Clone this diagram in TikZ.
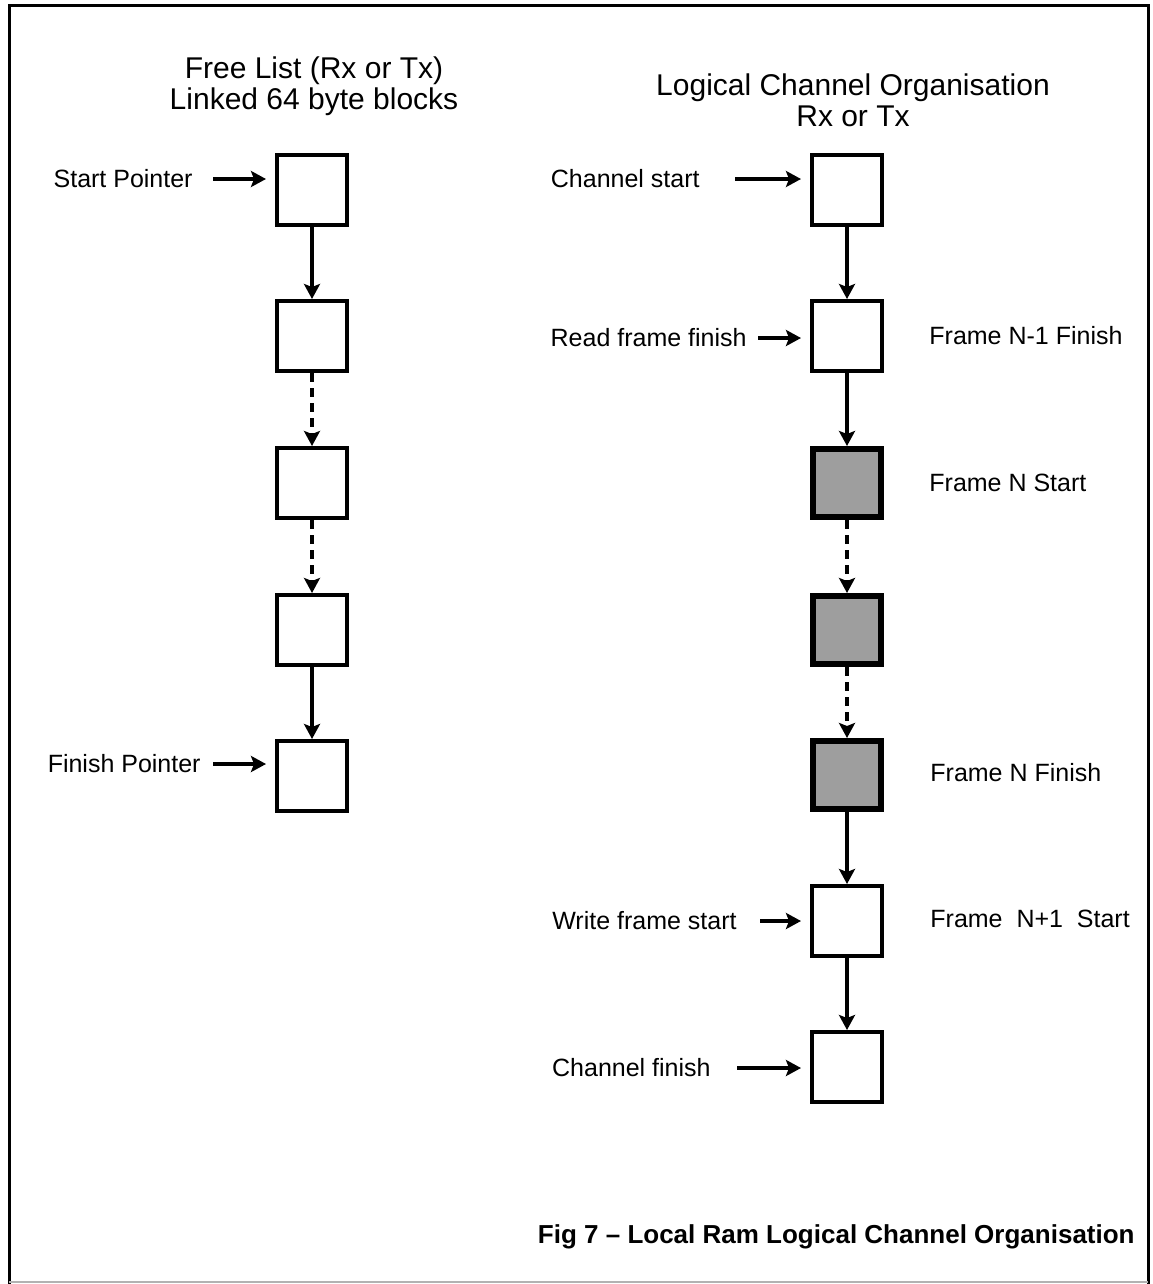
\documentclass[tikz,border=0pt]{standalone}
\usepackage{fontspec}
\setmainfont{Liberation Sans}
\usetikzlibrary{arrows.meta}
\begin{document}
\begin{tikzpicture}[x=0.5pt,y=-0.5pt,
    blk/.style={draw, line width=2pt, minimum size=35pt, inner sep=0pt},
    shblk/.style={blk, line width=3pt, minimum size=34pt, fill=black!38},
    lbl/.style={inner sep=0pt, font=\fontsize{12.5}{14}\selectfont},
    ttl/.style={align=center, inner sep=0pt, font=\fontsize{15}{15.5}\selectfont},
    link/.style={line width=1.8pt, -{Stealth[length=7.5pt,width=8pt,inset=1.5pt]}},
    dlink/.style={link, dash pattern=on 4.5pt off 3pt},
    ptr/.style={link, shorten >=4.5pt}]
    \useasboundingbox (0,0) rectangle (1152,1284);
    % frame
    \draw[line width=1.5pt] (9,1284) -- (9,6) -- (1148,6) -- (1148,1284);
    \draw[gray!60, line width=0.6pt] (9,1282) -- (1148,1282);
    % free list
    \node[ttl] (fltitle) at (314,86) {Free List (Rx or Tx)\\Linked 64 byte blocks};
    \node[blk] (f1) at (312,190) {};
    \node[blk] (f2) at (312,336) {};
    \node[blk] (f3) at (312,483) {};
    \node[blk] (f4) at (312,630) {};
    \node[blk] (f5) at (312,776) {};
    \draw[link] (f1) -- (f2);
    \draw[dlink] (f2) -- (f3);
    \draw[dlink] (f3) -- (f4);
    \draw[link] (f4) -- (f5);
    \node[lbl,anchor=east] (startp) at (193,179) {Start Pointer};
    \node[lbl,anchor=east] (finishp) at (201,764) {Finish Pointer};
    \draw[ptr, shorten <=10pt] (startp.east) -- (startp.east -| f1.west);
    \draw[ptr, shorten <=6pt] (finishp.east) -- (finishp.east -| f5.west);
    % logical channel
    \node[ttl] (lctitle) at (853,100) {Logical Channel Organisation\\Rx or Tx};
    \node[blk] (c1) at (847,190) {};
    \node[blk] (c2) at (847,336) {};
    \node[shblk] (c3) at (847,483) {};
    \node[shblk] (c4) at (847,630) {};
    \node[shblk] (c5) at (847,775) {};
    \node[blk] (c6) at (847,921) {};
    \node[blk] (c7) at (847,1067) {};
    \draw[link] (c1) -- (c2);
    \draw[link] (c2) -- (c3);
    \draw[dlink] (c3) -- (c4);
    \draw[dlink] (c4) -- (c5);
    \draw[link] (c5) -- (c6);
    \draw[link] (c6) -- (c7);
    \node[lbl,anchor=east] (chstart) at (700,179) {Channel start};
    \node[lbl,anchor=east] (rdfin) at (747,338) {Read frame finish};
    \node[lbl,anchor=east] (wrstart) at (737,921) {Write frame start};
    \node[lbl,anchor=east] (chfin) at (711,1068) {Channel finish};
    \draw[ptr, shorten <=17.5pt] (chstart.east) -- (chstart.east -| c1.west);
    \draw[ptr, shorten <=5.5pt] (rdfin.east) -- (rdfin.east -| c2.west);
    \draw[ptr, shorten <=11.5pt] (wrstart.east) -- (wrstart.east -| c6.west);
    \draw[ptr, shorten <=13pt] (chfin.east) -- (chfin.east -| c7.west);
    \node[lbl,anchor=west] (fn1fin) at (929,336) {Frame N-1 Finish};
    \node[lbl,anchor=west] (fnstart) at (929,483) {Frame N Start};
    \node[lbl,anchor=west] (fnfin) at (930,773) {Frame N Finish};
    \node[lbl,anchor=west] (fn2start) at (930,919) {Frame\ \ N+1\ \ Start};
    % caption
    \node[inner sep=0pt, anchor=east, font=\bfseries\fontsize{13}{15}\selectfont] (caption) at (1135,1237) {Fig 7 -- Local Ram Logical Channel Organisation};
\end{tikzpicture}
\end{document}
